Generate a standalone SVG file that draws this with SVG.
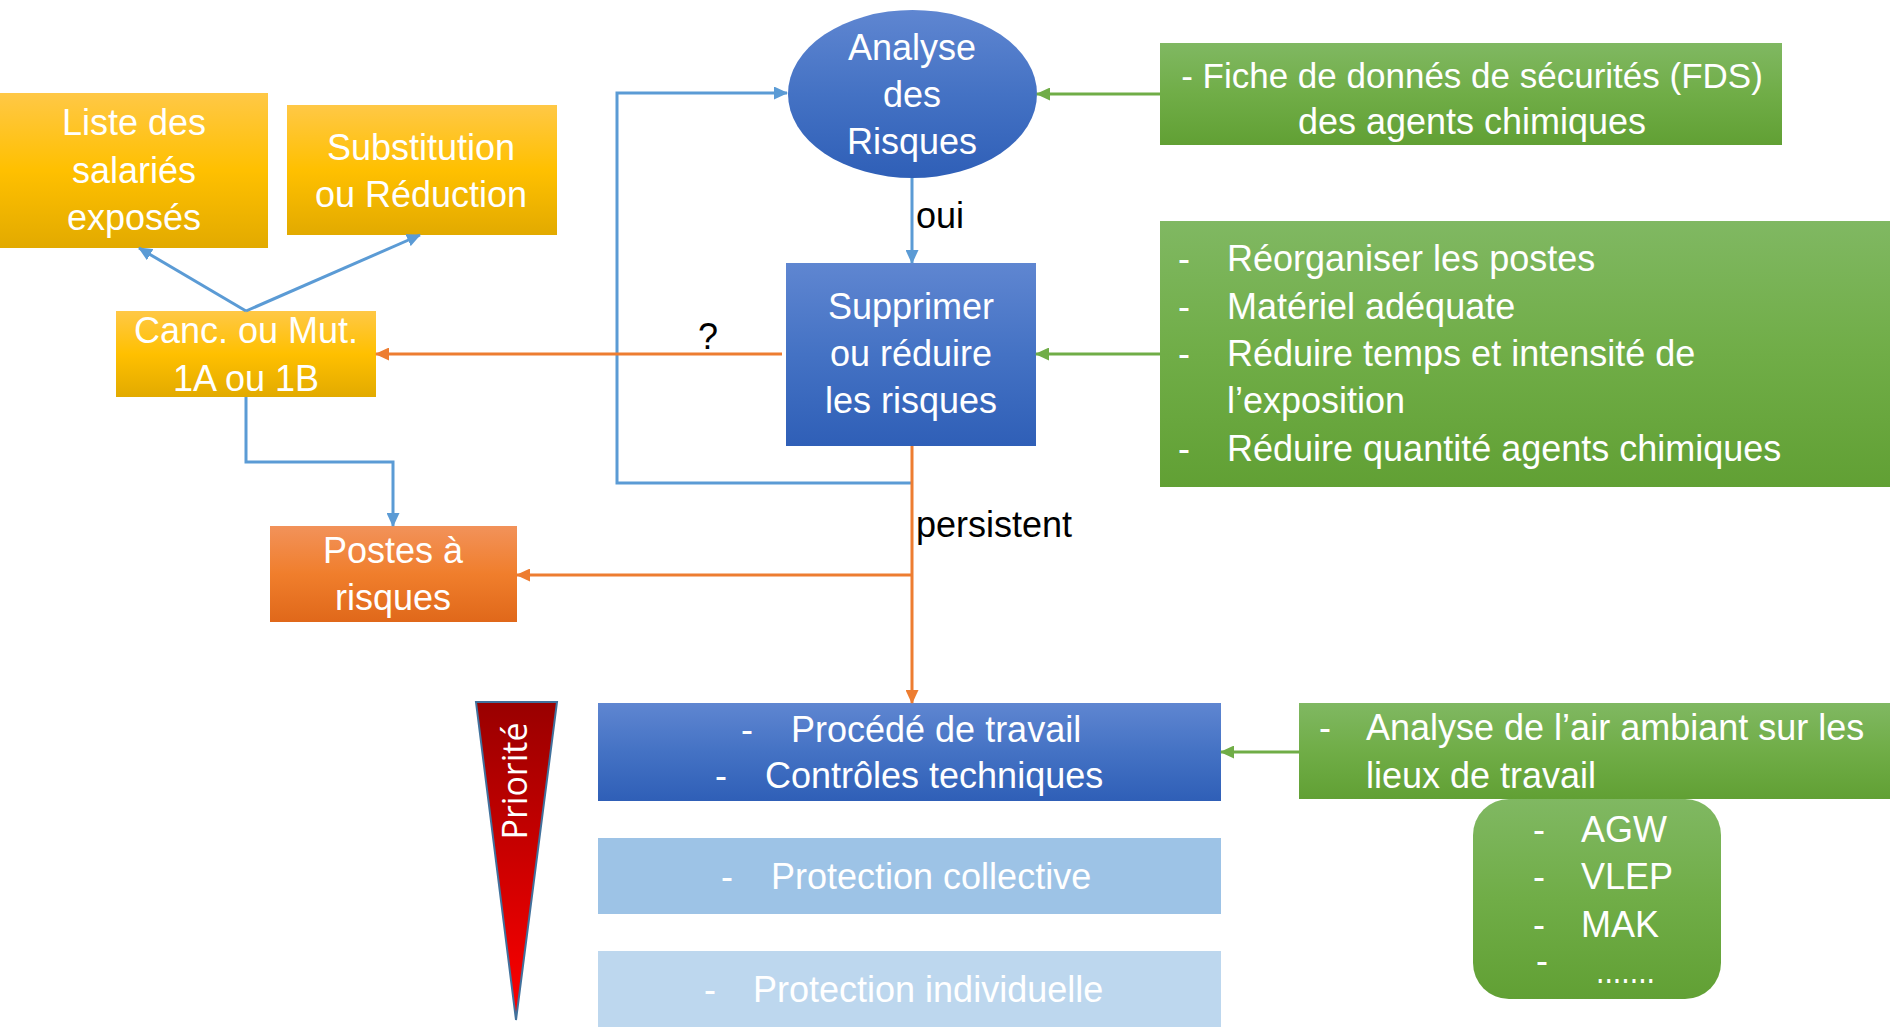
<svg xmlns="http://www.w3.org/2000/svg" width="1890" height="1029" viewBox="0 0 1890 1029">
<style>
.t{font-family:"Liberation Sans",Arial,sans-serif;font-size:36px;fill:#ffffff}
.c{text-anchor:middle}
.lbl{font-family:"Liberation Sans",Arial,sans-serif;font-size:36px;fill:#000000}
.lb{fill:none;stroke:#5b9bd5;stroke-width:3}
.lo{fill:none;stroke:#ed7d31;stroke-width:3}
.lg{fill:none;stroke:#70ad47;stroke-width:3}
</style>
<defs>
<linearGradient id="gGold" x1="0" y1="0" x2="0" y2="1"><stop offset="0" stop-color="#ffc846"/><stop offset="0.5" stop-color="#ffc000"/><stop offset="1" stop-color="#e2aa00"/></linearGradient>
<linearGradient id="gBlue" x1="0" y1="0" x2="0" y2="1"><stop offset="0" stop-color="#5f86d1"/><stop offset="0.5" stop-color="#4472c4"/><stop offset="1" stop-color="#2f5fb7"/></linearGradient>
<linearGradient id="gGreen" x1="0" y1="0" x2="0" y2="1"><stop offset="0" stop-color="#80b862"/><stop offset="0.5" stop-color="#70ad47"/><stop offset="1" stop-color="#61a034"/></linearGradient>
<linearGradient id="gOrange" x1="0" y1="0" x2="0" y2="1"><stop offset="0" stop-color="#f2925a"/><stop offset="0.5" stop-color="#f07e2c"/><stop offset="1" stop-color="#e0681a"/></linearGradient>
<linearGradient id="gRed" x1="0" y1="0" x2="0" y2="1"><stop offset="0" stop-color="#990000"/><stop offset="1" stop-color="#ff0000"/></linearGradient>
<marker id="aB" markerUnits="userSpaceOnUse" markerWidth="14" markerHeight="13" refX="13" refY="6.5" orient="auto"><path d="M0,0 L14,6.5 L0,13 z" fill="#5b9bd5"/></marker>
<marker id="aO" markerUnits="userSpaceOnUse" markerWidth="14" markerHeight="13" refX="13" refY="6.5" orient="auto"><path d="M0,0 L14,6.5 L0,13 z" fill="#ed7d31"/></marker>
<marker id="aG" markerUnits="userSpaceOnUse" markerWidth="14" markerHeight="13" refX="13" refY="6.5" orient="auto"><path d="M0,0 L14,6.5 L0,13 z" fill="#70ad47"/></marker>
</defs>

<g id="liste">
<rect x="0" y="93" width="268" height="155" fill="url(#gGold)"/>
<text class="t c" x="134" y="135">Liste des</text>
<text class="t c" x="134" y="183">salariés</text>
<text class="t c" x="134" y="230">exposés</text>
</g>
<g id="substitution">
<rect x="287" y="105" width="270" height="130" fill="url(#gGold)"/>
<text class="t c" x="421" y="160">Substitution</text>
<text class="t c" x="421" y="207">ou Réduction</text>
</g>
<g id="canc">
<rect x="116" y="311" width="260" height="86" fill="url(#gGold)"/>
<text class="t c" x="246" y="343">Canc. ou Mut.</text>
<text class="t c" x="246" y="391">1A ou 1B</text>
</g>
<g id="postes">
<rect x="270" y="526" width="247" height="96" fill="url(#gOrange)"/>
<text class="t c" x="393" y="563">Postes à</text>
<text class="t c" x="393" y="610">risques</text>
</g>
<g id="analyse">
<ellipse cx="912.5" cy="94" rx="124.5" ry="84" fill="url(#gBlue)"/>
<text class="t c" x="912" y="60">Analyse</text>
<text class="t c" x="912" y="107">des</text>
<text class="t c" x="912" y="154">Risques</text>
</g>
<g id="supprimer">
<rect x="786" y="263" width="250" height="183" fill="url(#gBlue)"/>
<text class="t c" x="911" y="319">Supprimer</text>
<text class="t c" x="911" y="366">ou réduire</text>
<text class="t c" x="911" y="413">les risques</text>
</g>
<g id="fds">
<rect x="1160" y="43" width="622" height="102" fill="url(#gGreen)"/>
<text class="t c" x="1472" y="88" style="font-size:35px">- Fiche de donnés de sécurités (FDS)</text>
<text class="t c" x="1472" y="134">des agents chimiques</text>
</g>
<g id="mesures">
<rect x="1160" y="221" width="730" height="266" fill="url(#gGreen)"/>
<text class="t" y="271"><tspan x="1178">-</tspan><tspan x="1227">Réorganiser les postes</tspan></text>
<text class="t" y="319"><tspan x="1178">-</tspan><tspan x="1227">Matériel adéquate</tspan></text>
<text class="t" y="366"><tspan x="1178">-</tspan><tspan x="1227">Réduire temps et intensité de</tspan></text>
<text class="t" x="1227" y="413">l’exposition</text>
<text class="t" y="461"><tspan x="1178">-</tspan><tspan x="1227">Réduire quantité agents chimiques</tspan></text>
</g>
<g id="priorite">
<polygon points="476,702 557,702 516,1020" fill="url(#gRed)" stroke="#41719c" stroke-width="2"/>
<text x="0" y="0" transform="translate(527,781) rotate(-90)" text-anchor="middle" style="font-family:'Open Sans',sans-serif;font-size:34px;fill:#ffffff">Priorité</text>
</g>
<g id="procede">
<rect x="598" y="703" width="623" height="98" fill="url(#gBlue)"/>
<text class="t" y="742"><tspan x="741">-</tspan><tspan x="791">Procédé de travail</tspan></text>
<text class="t" y="788"><tspan x="715">-</tspan><tspan x="765">Contrôles techniques</tspan></text>
</g>
<g id="collective">
<rect x="598" y="838" width="623" height="76" fill="#9dc3e6"/>
<text class="t" y="889"><tspan x="721">-</tspan><tspan x="771">Protection collective</tspan></text>
</g>
<g id="individuelle">
<rect x="598" y="951" width="623" height="76" fill="#bdd7ee"/>
<text class="t" y="1002"><tspan x="704">-</tspan><tspan x="753">Protection individuelle</tspan></text>
</g>
<g id="analyse-air">
<rect x="1299" y="703" width="591" height="96" fill="url(#gGreen)"/>
<text class="t" y="740"><tspan x="1319">-</tspan><tspan x="1366">Analyse de l’air ambiant sur les</tspan></text>
<text class="t" x="1366" y="788">lieux de travail</text>
</g>
<g id="valeurs">
<rect x="1473" y="799" width="248" height="200" rx="36" ry="36" fill="url(#gGreen)"/>
<text class="t" y="842"><tspan x="1533">-</tspan><tspan x="1581">AGW</tspan></text>
<text class="t" y="889"><tspan x="1533">-</tspan><tspan x="1581">VLEP</tspan></text>
<text class="t" y="937"><tspan x="1533">-</tspan><tspan x="1581">MAK</tspan></text>
<text class="t" y="983"><tspan x="1536" dy="-10">-</tspan><tspan x="1596" dy="10" textLength="59" lengthAdjust="spacingAndGlyphs">.......</tspan></text>
</g>

<g id="connectors">
<path class="lb" d="M912,178 L912,263" marker-end="url(#aB)"/>
<path class="lb" d="M912,483 L617,483 L617,93 L787,93" marker-end="url(#aB)"/>
<path class="lb" d="M246,311 L139,248" marker-end="url(#aB)"/>
<path class="lb" d="M246,311 L420,235" marker-end="url(#aB)"/>
<path class="lb" d="M246,397 L246,462 L393,462 L393,526" marker-end="url(#aB)"/>
<path class="lo" d="M782,354 L376,354" marker-end="url(#aO)"/>
<path class="lo" d="M912,446 L912,703" marker-end="url(#aO)"/>
<path class="lo" d="M912,575 L517,575" marker-end="url(#aO)"/>
<path class="lg" d="M1160,94 L1037,94" marker-end="url(#aG)"/>
<path class="lg" d="M1160,354 L1036,354" marker-end="url(#aG)"/>
<path class="lg" d="M1299,752 L1221,752" marker-end="url(#aG)"/>
<text class="lbl" x="916" y="228">oui</text>
<text class="lbl" x="708" y="349" text-anchor="middle">?</text>
<text class="lbl" x="916" y="537">persistent</text>
</g>
</svg>
